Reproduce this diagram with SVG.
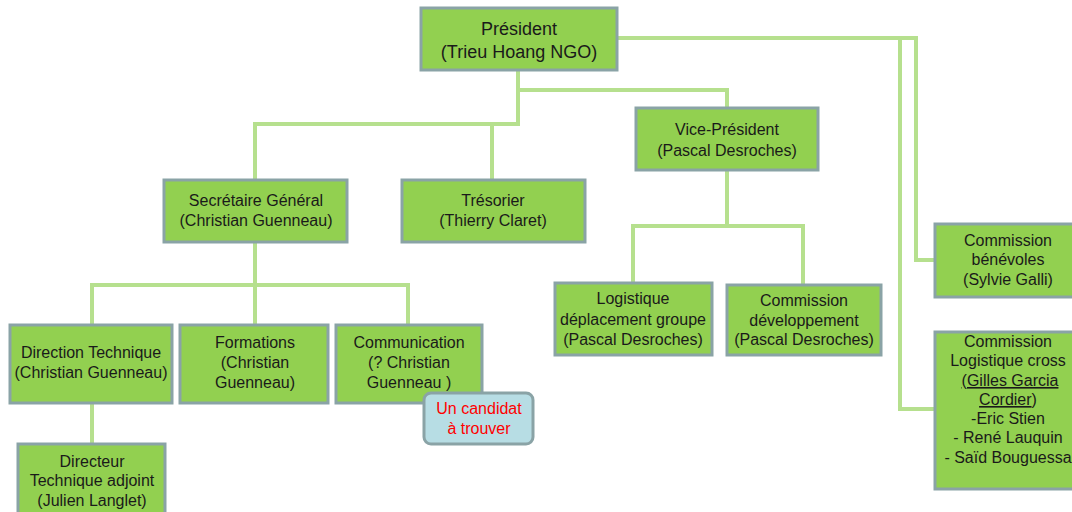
<svg xmlns="http://www.w3.org/2000/svg" width="1072" height="512" viewBox="0 0 1072 512">
<style>
.box{fill:#92d050;stroke:#8aa3a6;stroke-width:3}
.t{font-family:"Liberation Sans",Arial,sans-serif;font-size:16px;fill:#1a1a1a;text-anchor:middle}
.big{font-size:18px}
.red{fill:#ff0000}
.c{fill:none;stroke:#b6e08e;stroke-width:4}
</style>
<rect width="1072" height="512" fill="#ffffff"/>
<g id="connectors">
<path class="c" d="M518 70V124H255V180"/>
<path class="c" d="M492 124V180"/>
<path class="c" d="M518 90H727V108"/>
<path class="c" d="M727 170V226H633V283"/>
<path class="c" d="M727 226H803V285"/>
<path class="c" d="M255 242V285H92V325"/>
<path class="c" d="M255 285V325"/>
<path class="c" d="M255 285H408V325"/>
<path class="c" d="M92 403V444"/>
<path class="c" d="M617 38H916V260H935"/>
<path class="c" d="M900 38V409H935"/>
</g>
<g id="president"><rect class="box" x="421" y="8" width="196" height="62"/>
<text class="t big" x="519" y="35">Président</text><text class="t big" x="519" y="58">(Trieu Hoang NGO)</text></g>
<g id="vice-president"><rect class="box" x="636" y="108" width="182" height="62"/>
<text class="t" x="727" y="135">Vice-Président</text><text class="t" x="727" y="156">(Pascal Desroches)</text></g>
<g id="secretaire"><rect class="box" x="164" y="180" width="183" height="62"/>
<text class="t" x="256" y="206">Secrétaire Général</text><text class="t" x="256" y="226">(Christian Guenneau)</text></g>
<g id="tresorier"><rect class="box" x="402" y="180" width="183" height="62"/>
<text class="t" x="493" y="206">Trésorier</text><text class="t" x="493" y="226">(Thierry Claret)</text></g>
<g id="logistique-deplacement"><rect class="box" x="555" y="283" width="157" height="72"/>
<text class="t" x="633" y="304">Logistique</text><text class="t" x="633" y="325">déplacement groupe</text><text class="t" x="633" y="345">(Pascal Desroches)</text></g>
<g id="commission-developpement"><rect class="box" x="727" y="285" width="154" height="70"/>
<text class="t" x="804" y="306">Commission</text><text class="t" x="804" y="326">développement</text><text class="t" x="804" y="345">(Pascal Desroches)</text></g>
<g id="commission-benevoles"><rect class="box" x="935" y="224" width="146" height="73"/>
<text class="t" x="1008" y="246">Commission</text><text class="t" x="1008" y="265">bénévoles</text><text class="t" x="1008" y="285">(Sylvie Galli)</text></g>
<g id="commission-logistique-cross"><rect class="box" x="935" y="332" width="146" height="157"/>
<text class="t" x="1008" y="347">Commission</text><text class="t" x="1008" y="366">Logistique cross</text><text class="t" x="1010" y="386" text-decoration="underline">(Gilles Garcia</text><text class="t" x="1008" y="405"><tspan text-decoration="underline">Cordier</tspan>)</text><text class="t" x="1008" y="424">-Eric Stien</text><text class="t" x="1008" y="443">- René Lauquin</text><text class="t" x="1008" y="463">- Saïd Bouguessa</text></g>
<g id="direction-technique"><rect class="box" x="10" y="325" width="162" height="78"/>
<text class="t" x="91" y="358">Direction Technique</text><text class="t" x="91" y="378">(Christian Guenneau)</text></g>
<g id="formations"><rect class="box" x="180" y="325" width="148" height="78"/>
<text class="t" x="255" y="348">Formations</text><text class="t" x="255" y="368">(Christian</text><text class="t" x="255" y="388">Guenneau)</text></g>
<g id="communication"><rect class="box" x="336" y="325" width="146" height="78"/>
<text class="t" x="409" y="348">Communication</text><text class="t" x="409" y="368">(? Christian</text><text class="t" x="409" y="388">Guenneau )</text></g>
<g id="candidat"><rect x="424" y="393" width="109" height="51" rx="7" fill="#b7dde4" stroke="#8aa3a6" stroke-width="3"/>
<text class="t red" x="479" y="414">Un candidat</text><text class="t red" x="479" y="434">à trouver</text></g>
<g id="directeur-adjoint"><rect class="box" x="18" y="444" width="147" height="75"/>
<text class="t" x="92" y="467">Directeur</text><text class="t" x="92" y="486">Technique adjoint</text><text class="t" x="92" y="506">(Julien Langlet)</text></g>
</svg>
